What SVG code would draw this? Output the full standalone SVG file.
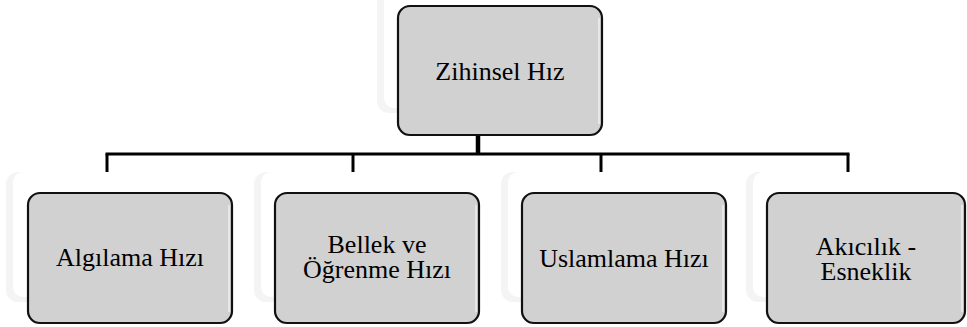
<svg xmlns="http://www.w3.org/2000/svg" width="967" height="327" viewBox="0 0 967 327">
  <style>
    .ghost { fill: #f4f4f4; }
    .ghost-face { fill: #ffffff; }
    .card { fill: #d1d1d1; stroke: #111111; stroke-width: 2.2; }
    .sheen { fill: none; stroke: #f4f6f8; stroke-width: 1.5; opacity: 0.8; }
    .link { stroke: #000000; stroke-width: 3; fill: none; }
  </style>

  <rect width="967" height="327" fill="#ffffff"/>

  <!-- tree connectors: trunk, bus line and four drops -->
  <g id="connectors">
    <line x1="478" y1="114" x2="478" y2="134" stroke="#b4b4b4" stroke-width="4.5"/>
    <line x1="478" y1="134" x2="478" y2="155" stroke="#000000" stroke-width="4.5"/>
    <line class="link" x1="105.5" y1="154" x2="849.5" y2="154"/>
    <line class="link" x1="107" y1="154" x2="107" y2="172"/>
    <line class="link" x1="353" y1="154" x2="353" y2="172"/>
    <line class="link" x1="601" y1="154" x2="601" y2="172"/>
    <line class="link" x1="848" y1="154" x2="848" y2="172"/>
  </g>

  <g id="zihinsel-hiz">
    <rect class="ghost" x="377" y="-16" width="205" height="129" rx="12"/>
    <rect class="ghost-face" x="384" y="-16" width="198" height="124" rx="10"/>
    <rect class="card" x="398" y="6" width="204" height="129" rx="12"/>
    <path class="sheen" d="M599 18 V124"/>
    <text x="500" y="80" style="font-family: 'Liberation Serif', serif; font-size: 26px; text-anchor: middle">Zihinsel Hız</text>
  </g>

  <g id="algilama-hizi">
    <rect class="ghost" x="6" y="172" width="205" height="130" rx="12"/>
    <rect class="ghost-face" x="13" y="172" width="198" height="125" rx="10"/>
    <rect class="card" x="28" y="193" width="204" height="130" rx="12"/>
    <path class="sheen" d="M229 205 V312"/>
    <text x="130" y="266" style="font-family: 'Liberation Serif', serif; font-size: 26px; text-anchor: middle">Algılama Hızı</text>
  </g>

  <g id="bellek-ogrenme-hizi">
    <rect class="ghost" x="254" y="172" width="205" height="130" rx="12"/>
    <rect class="ghost-face" x="261" y="172" width="198" height="125" rx="10"/>
    <rect class="card" x="275" y="193" width="204" height="130" rx="12"/>
    <path class="sheen" d="M476 205 V312"/>
    <text x="377" y="253" style="font-family: 'Liberation Serif', serif; font-size: 26px; text-anchor: middle">Bellek ve</text>
    <text x="377" y="278" style="font-family: 'Liberation Serif', serif; font-size: 26px; text-anchor: middle">Öğrenme Hızı</text>
  </g>

  <g id="uslamlama-hizi">
    <rect class="ghost" x="501" y="172" width="205" height="130" rx="12"/>
    <rect class="ghost-face" x="508" y="172" width="198" height="125" rx="10"/>
    <rect class="card" x="522" y="193" width="204" height="130" rx="12"/>
    <path class="sheen" d="M723 205 V312"/>
    <text x="624" y="267" style="font-family: 'Liberation Serif', serif; font-size: 26px; text-anchor: middle">Uslamlama Hızı</text>
  </g>

  <g id="akicilik-esneklik">
    <rect class="ghost" x="746" y="172" width="200" height="130" rx="12"/>
    <rect class="ghost-face" x="753" y="172" width="193" height="125" rx="10"/>
    <rect class="card" x="767" y="193" width="198" height="130" rx="12"/>
    <path class="sheen" d="M962 205 V312"/>
    <text x="866" y="255" style="font-family: 'Liberation Serif', serif; font-size: 26px; text-anchor: middle">Akıcılık -</text>
    <text x="866" y="280" style="font-family: 'Liberation Serif', serif; font-size: 26px; text-anchor: middle">Esneklik</text>
  </g>
</svg>
